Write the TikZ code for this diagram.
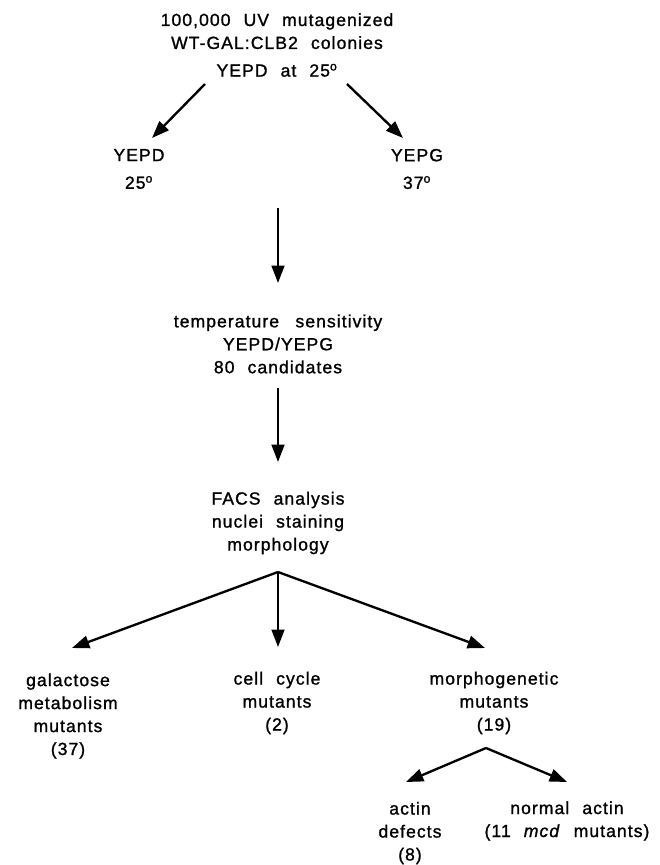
\documentclass[tikz,border=0pt]{standalone}
\usepackage{fontspec}
\setmainfont{Liberation Sans}[LetterSpace=6,WordSpace=2.2,FakeBold=1.2]
\usetikzlibrary{arrows.meta}

\begin{document}
\begin{tikzpicture}[x=0.03cm, y=-0.03cm,
  lbl/.style={align=center, inner sep=0pt, font=\fontsize{15}{19.6}\selectfont},
  arr/.style={line width=2pt, -{Triangle[length=0.52cm,width=0.38cm]}}]
  \useasboundingbox (0,0) rectangle (659,865);
  % screen
  \node[lbl] (start) at (277,45) {100,000 UV mutagenized\\WT-GAL:CLB2 colonies\\[4pt]YEPD at 25\textsuperscript{o}};
  \node[lbl] (yepd) at (139,169) {YEPD\\[4pt]25\textsuperscript{o}};
  \node[lbl] (yepg) at (417,169) {YEPG\\[4pt]37\textsuperscript{o}};
  \node[lbl] (tsens) at (278,344) {temperature\hspace{14pt}sensitivity\\YEPD/YEPG\\80 candidates};
  \node[lbl] (facs) at (278,523) {FACS analysis\\nuclei staining\\morphology};
  % classes
  \node[lbl] (galac) at (68,716) {galactose\\metabolism\\mutants\\(37)};
  \node[lbl] (cellc) at (277,703) {cell cycle\\mutants\\(2)};
  \node[lbl] (morph) at (494,703) {morphogenetic\\mutants\\(19)};
  \node[lbl] (actdef) at (410,833) {actin\\defects\\(8)};
  \node[lbl] (actok) at (567,821) {normal actin\\(11 \textit{mcd} mutants)};
  % arrow ends
  \coordinate (splitL) at (205,84);
  \coordinate (splitR) at (347,84);
  \coordinate (toL) at (152,138);
  \coordinate (toR) at (403,138);
  \coordinate (pick) at (278,208);
  \coordinate (tsensIn) at (278,283);
  \coordinate (tsensOut) at (278,388);
  \coordinate (facsIn) at (278,462);
  \coordinate (fork) at (278,572);
  \coordinate (galacIn) at (72,648);
  \coordinate (cellcIn) at (278,647);
  \coordinate (morphIn) at (485,648);
  \coordinate (subfork) at (486,748);
  \coordinate (actdefIn) at (406,782);
  \coordinate (actokIn) at (567,782);
  \draw[arr] (splitL) -- (toL);
  \draw[arr] (splitR) -- (toR);
  \draw[arr] (pick) -- (tsensIn);
  \draw[arr] (tsensOut) -- (facsIn);
  \draw[arr] (fork) -- (galacIn);
  \draw[arr] (fork) -- (cellcIn);
  \draw[arr] (fork) -- (morphIn);
  \draw[arr] (subfork) -- (actdefIn);
  \draw[arr] (subfork) -- (actokIn);
\end{tikzpicture}
\end{document}
